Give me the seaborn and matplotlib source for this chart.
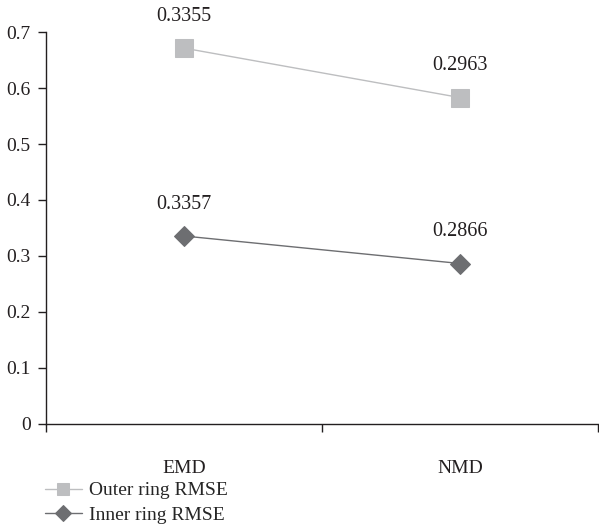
import matplotlib
matplotlib.use("Agg")
import matplotlib.pyplot as plt
import seaborn as sns
import pandas as pd
import numpy as np

methods = ["EMD", "NMD"]
inner_rmse = [0.3357, 0.2866]
outer_rmse = [0.3355, 0.2963]
series_names = ["Outer ring RMSE", "Inner ring RMSE"]
yticks = [0, 0.1, 0.2, 0.3, 0.4, 0.5, 0.6, 0.7]

sns.set_style("white")
plt.rcParams['font.family'] = ['Liberation Serif', 'DejaVu Serif']

# stacked line chart: outer series stacked on top of inner
inner_plot = np.array(inner_rmse)
outer_plot = inner_plot + np.array(outer_rmse)

df = pd.DataFrame({
    "x": list(range(len(methods))) * 2,
    "y": list(outer_plot) + list(inner_plot),
    "label": list(outer_rmse) + list(inner_rmse),
    "series": [series_names[0]] * 2 + [series_names[1]] * 2,
})

fig = plt.figure(figsize=(5.99, 5.27), dpi=100)
ax = fig.add_axes([46/599, (527-424)/527, (598-46)/599, (424-32)/527])

styles = {
    series_names[0]: dict(color="#BDBEC0", line="#BDBEC0", marker="s", ms=13, lw=1.0),
    series_names[1]: dict(color="#6D6E71", line="#6D6E71", marker="D", ms=10, lw=1.0),
}
for name in series_names:
    sub = df[df.series == name]
    st = styles[name]
    sns.lineplot(data=sub, x="x", y="y", ax=ax, color=st["line"], lw=st["lw"],
                 marker=st["marker"], markersize=st["ms"], markerfacecolor=st["color"],
                 markeredgecolor=st["color"], label=name, legend=False)
    for xv, yv, lab in zip(sub.x, sub.y, sub.label):
        ax.annotate(f"{lab:.4f}", (xv, yv), xytext=(0, 16), textcoords="offset points",
                    ha="center", va="bottom", fontsize=14.5, color="#231F20")

ax.set_xlim(-0.5, 1.5)
ax.set_ylim(0, 0.7)
ax.set_yticks(yticks)
ax.set_yticklabels([f"{t:g}" for t in yticks])
ax.set_xticks(range(len(methods)))
ax.set_xticklabels(methods)
ax.set_xticks([-0.5, 0.5, 1.5], minor=True)
ax.tick_params(axis="x", which="major", length=0, pad=26, labelsize=14, colors="#231F20")
ax.tick_params(axis="x", which="minor", length=6, width=1, direction="out", color="#231F20", bottom=True)
ax.tick_params(axis="y", length=6, width=1, direction="out", labelsize=14, colors="#231F20", left=True, pad=5)
ax.set_xlabel("")
ax.set_ylabel("")
for s in ["top", "right"]:
    ax.spines[s].set_visible(False)
for s in ["left", "bottom"]:
    ax.spines[s].set_color("#231F20")
    ax.spines[s].set_linewidth(1.0)

handles, labels = ax.get_legend_handles_labels()
leg = fig.legend(handles, labels, loc="upper left", bbox_to_anchor=(37/599, 1 - 474/527),
                 frameon=False, fontsize=14, handlelength=1.9, handletextpad=0.35,
                 labelspacing=0.35, borderaxespad=0)
for h in leg.legend_handles:
    h.set_markersize(8)

fig.savefig("out.png", dpi=100)
